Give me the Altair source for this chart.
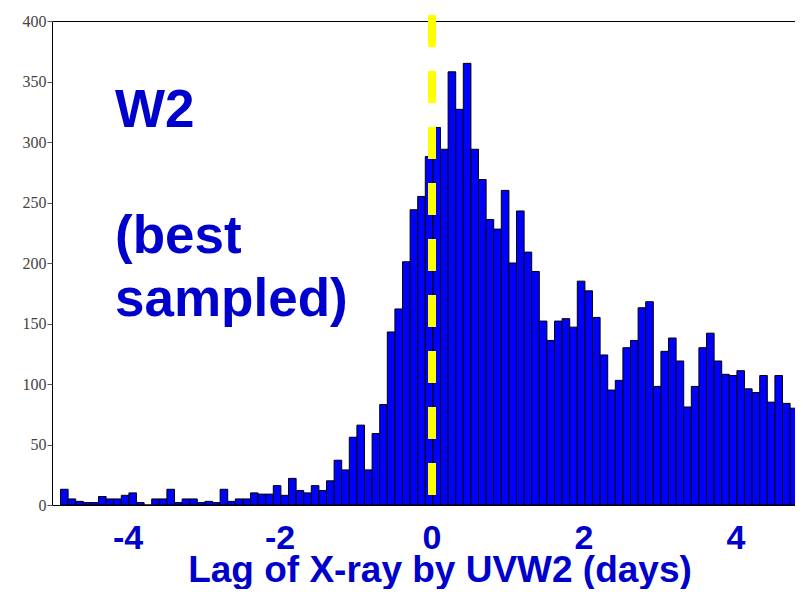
import altair as alt
import pandas as pd
import numpy as np

# Histogram counts (bin width 0.1 day)
counts = [13, 5, 3, 2, 2, 7, 5, 5, 8, 10, 2, 0, 5, 5, 13, 2, 5, 5, 2, 3,
          2, 13, 3, 5, 5, 10, 9, 9, 16, 8, 22, 12, 10, 16, 12, 20, 37, 29, 56, 66,
          29, 59, 83, 143, 162, 201, 244, 255, 288, 312, 294, 358, 327, 365, 294, 269, 236, 228, 260, 200,
          243, 209, 193, 152, 136, 152, 154, 147, 185, 177, 155, 124, 95, 103, 130, 136, 163, 168, 98, 127,
          138, 119, 81, 98, 130, 142, 119, 108, 107, 111, 96, 93, 107, 85, 107, 84, 80, 85]
bin_first_edge = -4.888
bin_width = 0.1

x_ticks = [-4, -2, 0, 2, 4]
x_tick_labels = ["-4", "-2", "0", "2", "4"]
y_ticks = [0, 50, 100, 150, 200, 250, 300, 350, 400]
zero_lag = [0.0]
annot_lines = ["W2", "(best", "sampled)"]
x_title_faint = "Lag of Xray by UV (detrended) days"
x_title_blue = "Lag of X-ray by UVW2 (days)"

edges = np.round(bin_first_edge + bin_width * np.arange(len(counts) + 1), 4)
hist = pd.DataFrame({"x0": edges[:-1], "x1": edges[1:], "count": counts})

PLOT_W = 743
XDOM = [-5, -5 + PLOT_W / 76.0]
xscale = alt.Scale(domain=XDOM, nice=False, zero=False)
yscale = alt.Scale(domain=[0, 400], nice=False)
BLUE = "#0000CC"

bars = alt.Chart(hist).mark_bar(
    fill="#0000FF", stroke="black", strokeWidth=1, clip=True
).encode(
    x=alt.X("x0:Q", scale=xscale,
            axis=alt.Axis(values=x_ticks, labelFont="Liberation Serif", labelFontSize=13,
                          labelColor="#EDEDED", ticks=False, domain=False, grid=False,
                          labelPadding=2, title=x_title_faint, titleFont="Liberation Serif",
                          titleFontSize=17, titleFontWeight="normal", titleColor="#DCDCDC",
                          titleY=45, titleBaseline="alphabetic")),
    x2="x1:Q",
    y=alt.Y("count:Q", scale=yscale,
            axis=alt.Axis(values=y_ticks, labelFont="Liberation Serif", labelFontSize=16,
                          labelColor="#444444", tickSize=5, tickColor="#555555",
                          labelPadding=1, domain=False, grid=False), title=None),
    y2=alt.datum(0),
)

vline = alt.Chart(pd.DataFrame({"lag": zero_lag})).mark_rule(
    color="#FFFF00", strokeWidth=8, strokeDash=[32, 24], strokeCap="butt"
).encode(
    x=alt.X("lag:Q", scale=xscale, axis=None),
    y=alt.value(-6), y2=alt.value(474),
)

ticklab = alt.Chart(pd.DataFrame({"v": x_ticks, "lab": x_tick_labels})).mark_text(
    font="Liberation Sans", fontWeight="bold", fontSize=34, color=BLUE,
    baseline="alphabetic", align="center"
).encode(
    x=alt.X("v:Q", scale=xscale, axis=None),
    y=alt.value(528),
    text="lab:N",
)

title_blue = alt.Chart(pd.DataFrame({"t": [x_title_blue]})).mark_text(
    font="Liberation Sans", fontWeight="bold", fontSize=37, color=BLUE,
    baseline="alphabetic", align="center"
).encode(x=alt.value(388), y=alt.value(561), text="t:N")

annot_y = [106, 232, 295]
annots = []
for line, yy in zip(annot_lines, annot_y):
    annots.append(
        alt.Chart(pd.DataFrame({"t": [line]})).mark_text(
            font="Liberation Sans", fontWeight="bold", fontSize=53, color=BLUE,
            baseline="alphabetic", align="left"
        ).encode(x=alt.value(63), y=alt.value(yy), text="t:N")
    )

chart = alt.layer(bars, vline, ticklab, title_blue, *annots).properties(
    width=PLOT_W, height=484,
    padding={"left": 44, "top": 13, "right": 0, "bottom": 84},
    autosize=alt.AutoSizeParams(type="none"),
    background="white",
).configure_view(stroke="black", strokeWidth=1)

chart.save("out.html", embed_options={"renderer": "svg", "actions": False})
